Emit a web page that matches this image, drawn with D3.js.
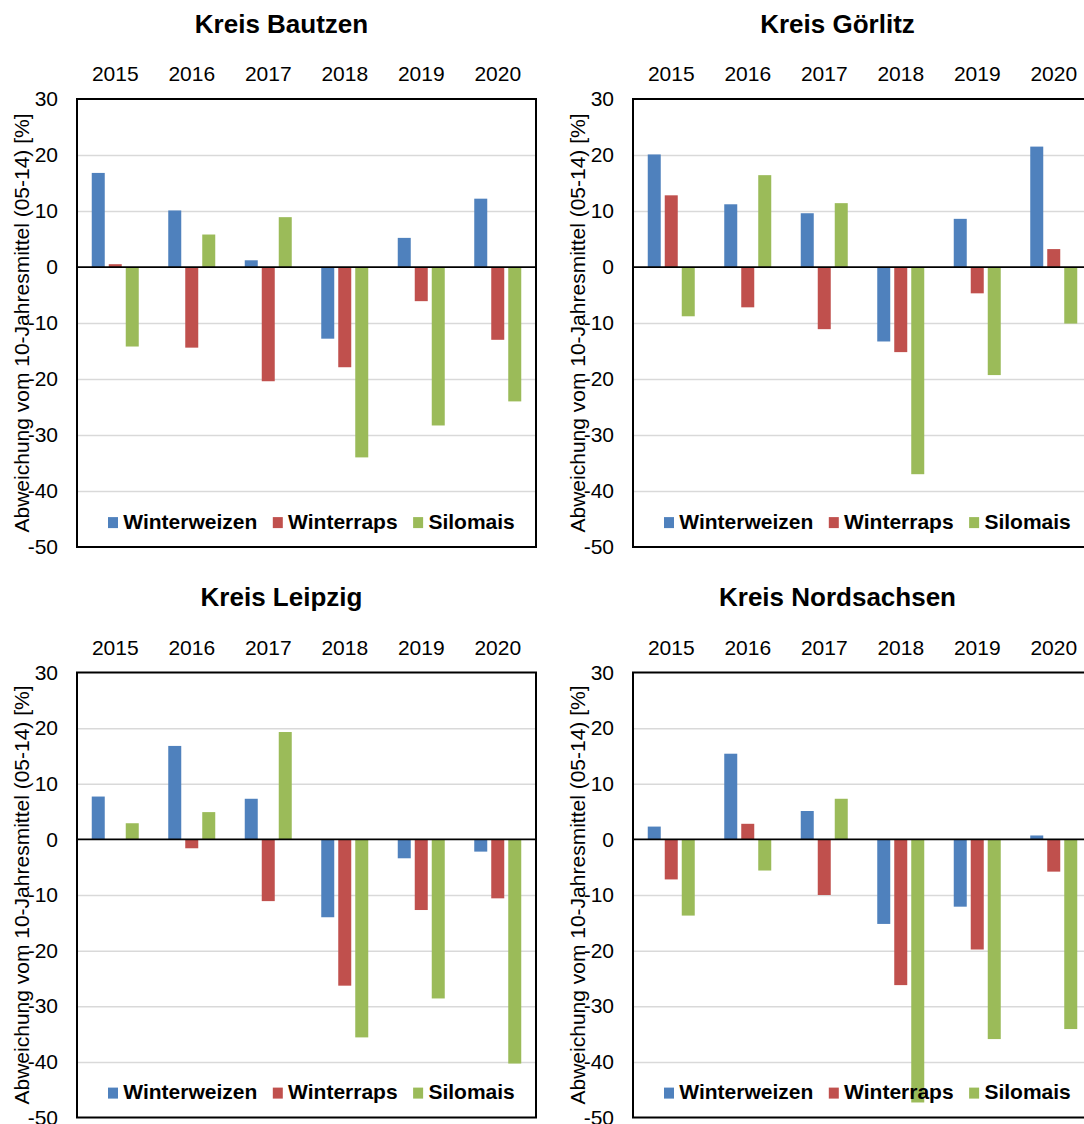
<!DOCTYPE html>
<html>
<head>
<meta charset="utf-8">
<script src="https://cdn.jsdelivr.net/npm/d3@7"></script>
<style>
  body { margin: 0; background: #fff; }
  text { font-family: "Liberation Sans", Arial, sans-serif; fill: #000; }
</style>
</head>
<body>
<svg id="chart" width="1084" height="1124"></svg>
<script>
const years = ["2015", "2016", "2017", "2018", "2019", "2020"];
const crops = ["Winterweizen", "Winterraps", "Silomais"];
const cropColors = ["#4F81BD", "#C0504D", "#9BBB59"];
const yTicks = [30, 20, 10, 0, -10, -20, -30, -40, -50];
const yTitle = "Abweichung vom 10-Jahresmittel (05-14) [%]";

// values, one array per crop and district
const bautzenWeizen = [16.8, 10.1, 1.2, -12.8, 5.2, 12.2];
const bautzenRaps = [0.5, -14.4, -20.4, -17.9, -6.1, -13.0];
const bautzenMais = [-14.2, 5.8, 8.9, -34.0, -28.3, -24.0];

const goerlitzWeizen = [20.1, 11.2, 9.6, -13.3, 8.6, 21.5];
const goerlitzRaps = [12.8, -7.2, -11.1, -15.2, -4.7, 3.2];
const goerlitzMais = [-8.8, 16.4, 11.4, -37.0, -19.3, -10.1];

const leipzigWeizen = [7.7, 16.8, 7.3, -14.0, -3.4, -2.2];
const leipzigRaps = [0, -1.6, -11.1, -26.3, -12.7, -10.6];
const leipzigMais = [2.9, 4.9, 19.3, -35.6, -28.6, -40.3];

const nordsachsenWeizen = [2.3, 15.4, 5.1, -15.2, -12.1, 0.7];
const nordsachsenRaps = [-7.2, 2.8, -10.0, -26.2, -19.8, -5.8];
const nordsachsenMais = [-13.7, -5.6, 7.3, -47.3, -35.9, -34.1];

const panels = [
    {title: "Kreis Bautzen", values: [bautzenWeizen, bautzenRaps, bautzenMais]},
    {title: "Kreis Görlitz", values: [goerlitzWeizen, goerlitzRaps, goerlitzMais]},
    {title: "Kreis Leipzig", values: [leipzigWeizen, leipzigRaps, leipzigMais]},
    {title: "Kreis Nordsachsen", values: [nordsachsenWeizen, nordsachsenRaps, nordsachsenMais]}
];

// layout of the 2x2 grid (right column runs off the page like in the source)
const colLeft = [77, 633];
const rowTop = [99, 672.5];
const rowHeight = [448, 445];
const plotW = 459;
const groupW = 47;

const svg = d3.select("#chart");

panels.forEach(function(p, i) {
    let col = i % 2;
    let row = Math.floor(i / 2);
    let h = rowHeight[row];

    let g = svg.append("g")
        .attr("transform", "translate(" + colLeft[col] + "," + rowTop[row] + ")");

    let y = d3.scaleLinear().domain([-50, 30]).range([h, 0]);
    let x0 = d3.scaleBand().domain(years).range([0, plotW]);
    let x1 = d3.scaleBand().domain(crops).range([0, groupW]).paddingInner(4 / 17);
    let shift = (x0.bandwidth() - groupW) / 2;

    // gridlines
    let grid = g.append("g")
        .call(d3.axisLeft(y)
            .tickValues(yTicks.filter(v => v !== 0 && v !== 30 && v !== -50))
            .tickSize(-plotW)
            .tickFormat(""));
    grid.select(".domain").remove();
    grid.selectAll("line").attr("stroke", "#D9D9D9").attr("stroke-width", 1.5);

    // bars
    crops.forEach(function(c, k) {
        g.append("g")
            .selectAll("rect")
            .data(p.values[k])
            .enter()
            .append("rect")
            .attr("x", (d, j) => x0(years[j]) + shift + x1(c))
            .attr("y", d => y(Math.max(0, d)))
            .attr("width", x1.bandwidth())
            .attr("height", d => Math.abs(y(d) - y(0)))
            .attr("fill", cropColors[k]);
    });

    // zero line and frame
    g.append("line")
        .attr("x1", 0).attr("x2", plotW)
        .attr("y1", y(0)).attr("y2", y(0))
        .attr("stroke", "#000").attr("stroke-width", 1.75);
    g.append("rect")
        .attr("width", plotW).attr("height", h)
        .attr("fill", "none").attr("stroke", "#000").attr("stroke-width", 2);

    // y tick labels (plain hyphen like the source)
    let yAxis = g.append("g")
        .call(d3.axisLeft(y).tickValues(yTicks).tickSize(0).tickPadding(19)
            .tickFormat(d => String(d)));
    yAxis.select(".domain").remove();
    yAxis.attr("font-size", 21).attr("font-family", null);
    yAxis.selectAll("text").attr("fill", "#000");

    // year labels on top
    let xAxis = g.append("g")
        .call(d3.axisTop(x0).tickSize(0).tickPadding(18));
    xAxis.select(".domain").remove();
    xAxis.attr("font-size", 21).attr("font-family", null);
    xAxis.selectAll("text").attr("fill", "#000");

    // title
    g.append("text")
        .attr("x", 204.5)
        .attr("y", -66.4)
        .attr("text-anchor", "middle")
        .attr("font-size", 26)
        .attr("font-weight", "bold")
        .text(p.title);

    // y axis title
    g.append("text")
        .attr("transform", "translate(-48," + (h / 2) + ") rotate(-90)")
        .attr("text-anchor", "middle")
        .attr("font-size", 21)
        .text(yTitle);

    // legend
    let legend = g.append("g")
        .attr("transform", "translate(31," + (h - 18.4) + ")");
    let cursor = 0;
    crops.forEach(function(c, k) {
        legend.append("rect")
            .attr("x", cursor).attr("y", -11.5)
            .attr("width", 10).attr("height", 11)
            .attr("fill", cropColors[k]);
        let t = legend.append("text")
            .attr("x", cursor + 15.3)
            .attr("y", 0)
            .attr("font-size", 21)
            .attr("font-weight", "bold")
            .text(c);
        cursor = cursor + 15.3 + t.node().getComputedTextLength() + 15.5;
    });
});
</script>
</body>
</html>
